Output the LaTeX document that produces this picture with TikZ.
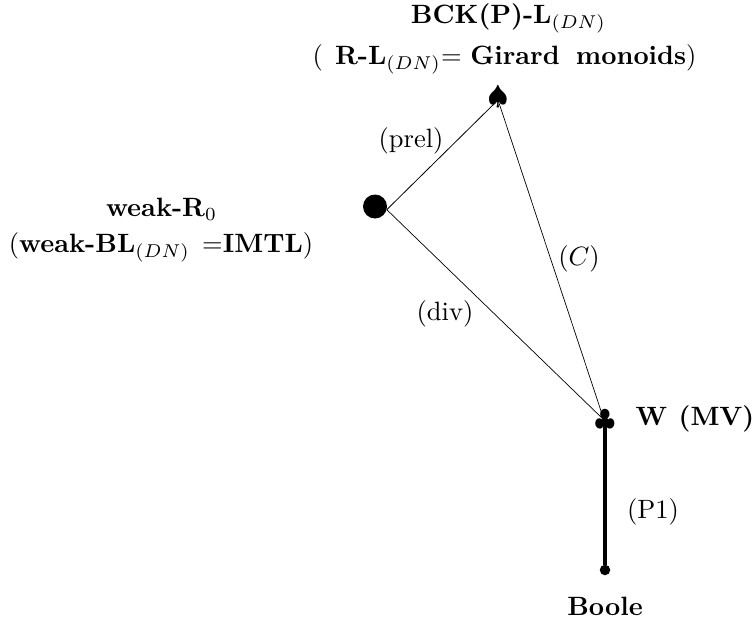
\documentclass[tikz,border=0pt]{standalone}
\usepackage{amssymb}
\begin{document}
\begin{tikzpicture}[x=1pt,y=-1pt,
 lab/.style={inner sep=0pt,scale=2.65},
 sym/.style={inner sep=0pt}]
\useasboundingbox (0,0) rectangle (754,626);
\node[lab] (t1) at (508.5,18) {\textbf{BCK(P)-L}$_{(DN)}$};
\node[lab] (t2) at (504.5,59) {(\hspace{1.3pt} \textbf{R-L}$_{(DN)}$= \textbf{Girard\hspace{2.3pt} monoids})};
\node[lab] (w1) at (161.5,209) {\textbf{weak-R}$_0$};
\node[lab] (w2) at (161,247) {(\textbf{weak-BL}$_{(DN)}$\hspace{1.3pt} =\textbf{IMTL})};
\node[lab] (mv) at (695,419) {\textbf{W\hspace{0.5pt} (MV)}};
\node[lab] (bo) at (605,606) {\textbf{Boole}};
\node[sym,scale=2.65] (sp) at (498,97) {$\spadesuit$};
\node[sym,scale=2.65] (cl) at (605,421) {$\clubsuit$};
\node[circle,fill,inner sep=0pt,minimum size=24pt] (c) at (375,206.5) {};
\node[circle,fill,inner sep=0pt,minimum size=10.5pt] (b) at (605,570) {};
\coordinate (sptip) at (498,100);
\coordinate (cltip) at (604,420);
\draw[line width=0.8pt] (c.-15) -- (sptip);
\draw[line width=0.7pt] (c.-15) -- (cltip);
\draw[line width=0.7pt] (sptip) -- (cltip);
\draw[line width=3.2pt] (cl.center) -- (b);
\node[lab] (l1) at (411,141) {(prel)};
\node[lab] (l2) at (579,259) {$(C)$};
\node[lab] (l3) at (445,314) {(div)};
\node[lab] (l4) at (653,512) {(P1)};
\end{tikzpicture}
\end{document}
